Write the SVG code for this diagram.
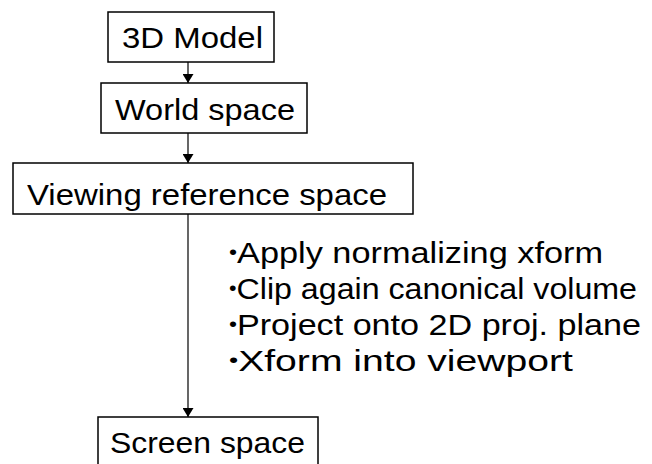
<svg xmlns="http://www.w3.org/2000/svg" width="652" height="464" viewBox="0 0 652 464">
<style>
.box{fill:#fff;stroke:#000;stroke-width:1.5}
.lbl{font-family:"Liberation Sans",Arial,sans-serif;font-size:30px;fill:#000}
.dot{font-size:20px}
.con{stroke:#000;stroke-width:1.2;fill:none}
</style>
<defs>
<marker id="ah" viewBox="0 0 9 11" refX="9" refY="5.5" markerWidth="9" markerHeight="11" markerUnits="userSpaceOnUse" orient="auto">
<path d="M0,0 L9,5.5 L0,11 Z" fill="#000"/>
</marker>
</defs>
<rect width="652" height="464" fill="#fff"/>
<g id="connectors">
<line class="con" x1="188" y1="62" x2="188" y2="83" marker-end="url(#ah)"/>
<line class="con" x1="188" y1="133" x2="188" y2="163" marker-end="url(#ah)"/>
<line class="con" x1="188" y1="214" x2="188" y2="417" marker-end="url(#ah)"/>
</g>
<g id="model">
<rect class="box" x="108" y="12" width="166" height="50"/>
<text class="lbl" x="122" y="48" textLength="141" lengthAdjust="spacingAndGlyphs">3D Model</text>
</g>
<g id="world">
<rect class="box" x="101" y="83" width="206" height="50"/>
<text class="lbl" x="115" y="120" textLength="180" lengthAdjust="spacingAndGlyphs">World space</text>
</g>
<g id="viewing">
<rect class="box" x="13" y="163" width="400" height="51"/>
<text class="lbl" x="27" y="205" textLength="360" lengthAdjust="spacingAndGlyphs">Viewing reference space</text>
</g>
<g id="screen">
<rect class="box" x="98" y="417" width="220" height="52"/>
<text class="lbl" x="110" y="453" textLength="195" lengthAdjust="spacingAndGlyphs">Screen space</text>
</g>
<g id="steps">
<text class="lbl" x="229" y="263" textLength="374" lengthAdjust="spacingAndGlyphs"><tspan class="dot" dy="-4">•</tspan><tspan dy="4">Apply normalizing xform</tspan></text>
<text class="lbl" x="229" y="299" textLength="408" lengthAdjust="spacingAndGlyphs"><tspan class="dot" dy="-4">•</tspan><tspan dy="4">Clip again canonical volume</tspan></text>
<text class="lbl" x="229" y="335" textLength="412" lengthAdjust="spacingAndGlyphs"><tspan class="dot" dy="-4">•</tspan><tspan dy="4">Project onto 2D proj. plane</tspan></text>
<text class="lbl" x="229" y="371" textLength="344" lengthAdjust="spacingAndGlyphs"><tspan class="dot" dy="-4">•</tspan><tspan dy="4">Xform into viewport</tspan></text>
</g>
</svg>
